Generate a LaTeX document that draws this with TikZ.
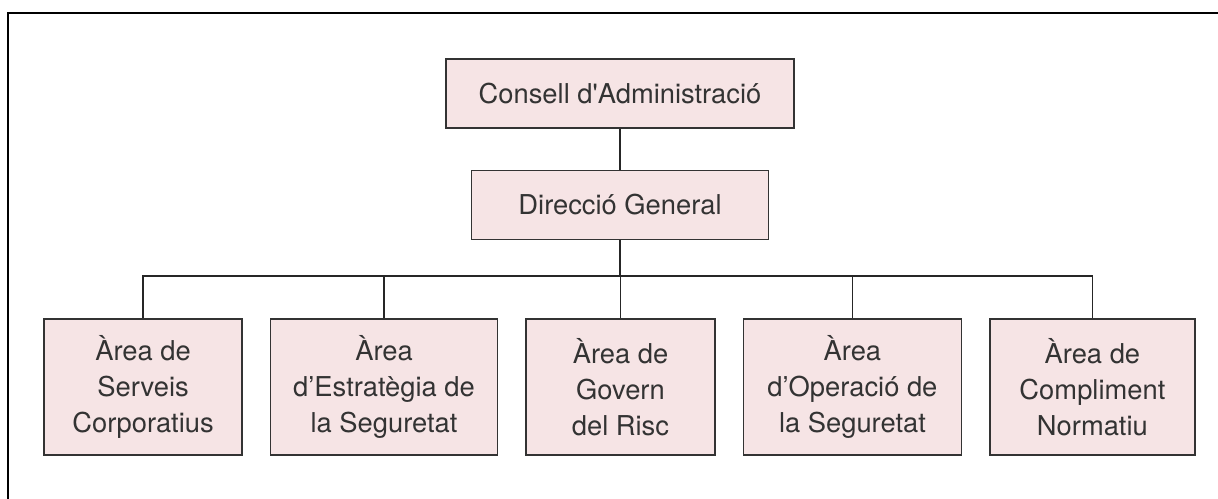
\documentclass[tikz,border=0pt]{standalone}
\usepackage{fontspec}
\setmainfont{TeX Gyre Heros}
\usetikzlibrary{positioning}
\definecolor{boxfill}{RGB}{246,228,229}
\definecolor{boxline}{RGB}{51,51,51}

\begin{document}
\begin{tikzpicture}
%Organigrama
	[
	 %Styles
	 x=0.75pt, y=-0.75pt,
	 node distance=30.75pt,
	 org_node/.style={rectangle,draw=boxline,fill=boxfill,line width=1.1pt,minimum height=51.75pt,inner sep=0pt,font=\fontsize{20.5}{27}\selectfont,text=black!80},
	 area_node/.style={org_node,minimum height=102pt,align=center},
	 link/.style={draw=black!85,line width=1.1pt},
	 frame_line/.style={draw=black,line width=2pt}
	]

	\useasboundingbox (0,0) rectangle (1218,499);
	%Frame
	\draw[frame_line] (8,13) rectangle (1240,520);

	%Node placement
	\node (consell) [org_node, minimum width=261pt] at (620,93.5) {Consell d\textquotesingle Administració};
	\node (direccio) [org_node, minimum width=222.75pt, below=of consell] {Direcció General};

	\matrix (areas) [column sep=20.25pt, inner sep=0pt] at (619.5,387) {
	    %Level 3
	    \node (serveis) [area_node, minimum width=148.5pt] {Àrea de\\Serveis\\Corporatius}; &
	    \node (estrategia) [area_node, minimum width=170.25pt] {Àrea\\d’Estratègia de\\la Seguretat}; &
	    \node (govern) [area_node, minimum width=141.75pt] {Àrea de\\Govern\\del Risc}; &
	    \node (operacio) [area_node, minimum width=163.5pt] {Àrea\\d’Operació de\\la Seguretat}; &
	    \node (compliment) [area_node, minimum width=153.75pt] {Àrea de\\Compliment\\Normatiu}; \\
	};

	%Edges
	\path[link]
	    (consell) -- (direccio)
	    (direccio.south) -- ++(0,36) coordinate (bus);
	\foreach \area in {serveis,estrategia,govern,operacio,compliment}
	    \draw[link] (bus) -| (\area.north);
\end{tikzpicture}
\end{document}
